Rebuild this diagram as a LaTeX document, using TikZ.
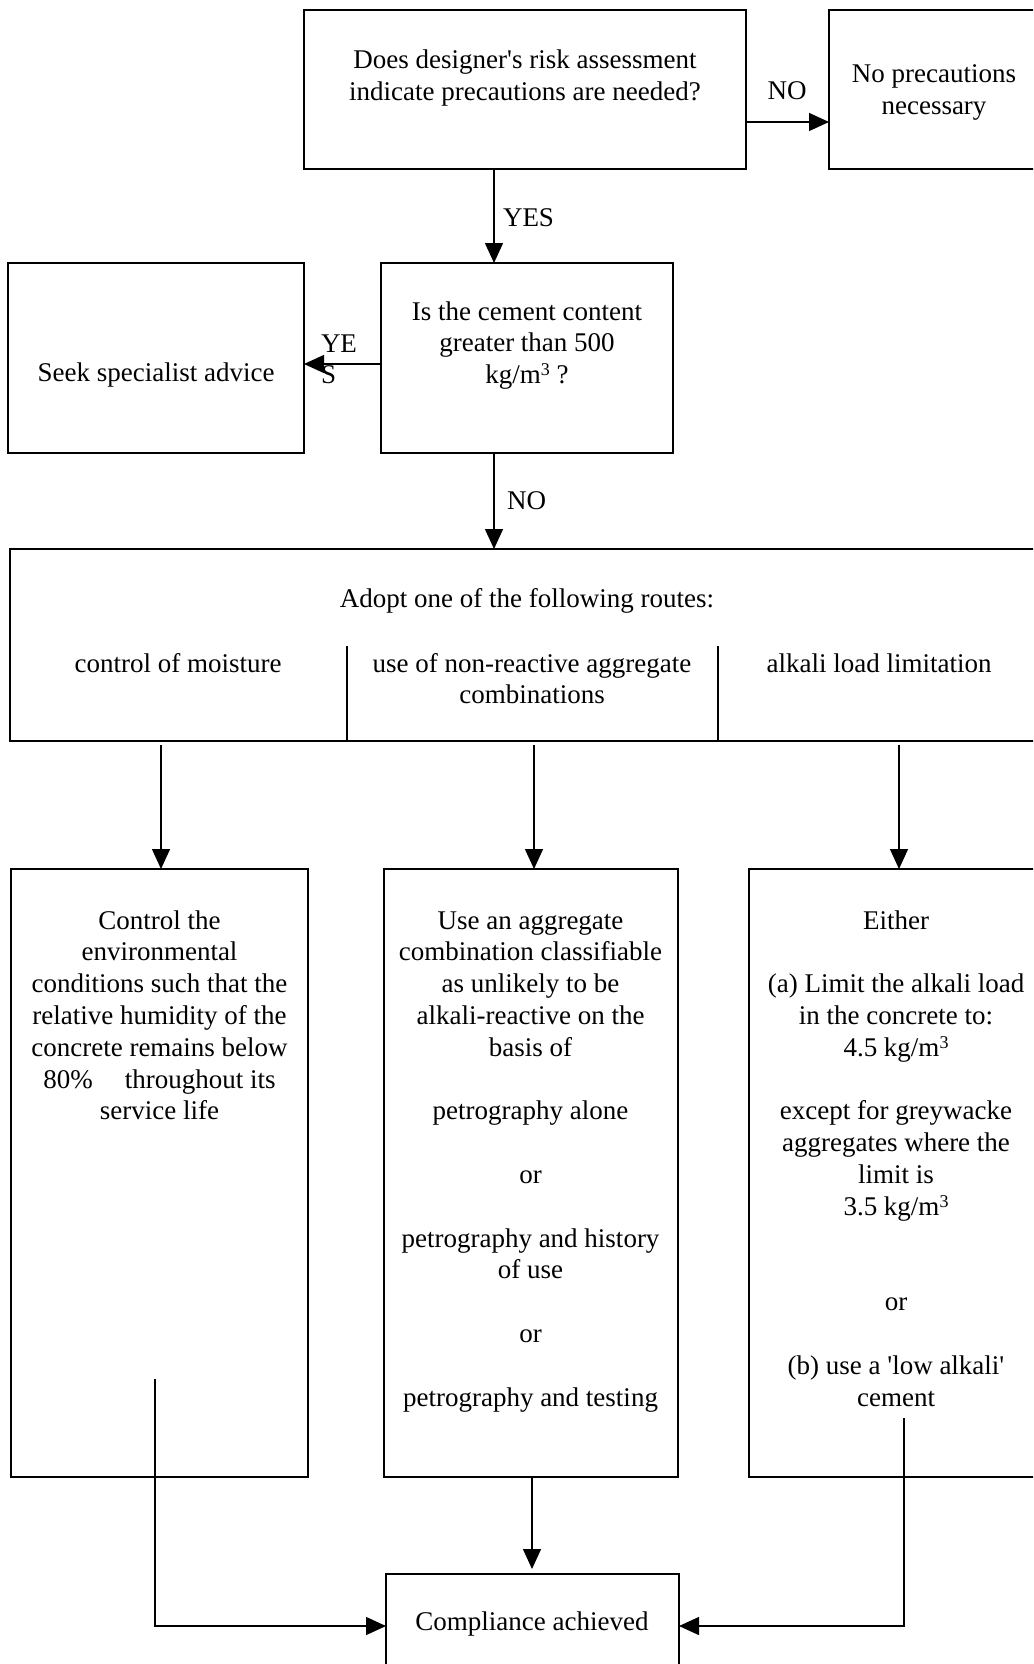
\documentclass[tikz,border=0pt]{standalone}
\usepackage{fontspec}
\setmainfont{Liberation Serif}
\usetikzlibrary{arrows.meta}
\newcommand{\fst}{\rule{0pt}{22pt}}
\newcommand{\cubed}{\smash{\raisebox{8pt}{\fontsize{18}{18}\selectfont 3}}}
\begin{document}
\begin{tikzpicture}[x=1pt,y=-1pt,
  box/.style={draw, line width=1.5pt, inner sep=0pt, outer sep=0pt},
  txt/.style={inner sep=0pt, outer sep=0pt, align=center, font=\fontsize{27}{31.8}\selectfont},
  arr/.style={line width=1.4pt, -{Triangle[length=20pt,width=18pt]}},
  ln/.style={line width=1.3pt}]
\useasboundingbox (0,0) rectangle (1033,1664);
\clip (0,0) rectangle (1033,1664);

% boxes
\node[box, minimum width=442pt, minimum height=159pt] (top) at (525,89.5) {};
\node[box, minimum width=211pt, minimum height=159pt] (noprec) at (934.5,89.5) {};
\node[box, minimum width=292pt, minimum height=190pt] (cement) at (527,358) {};
\node[box, minimum width=296pt, minimum height=190pt] (seek) at (156,358) {};
\node[box, minimum width=1030pt, minimum height=192pt] (routes) at (525,645) {};
\node[box, minimum width=297pt, minimum height=608pt] (boxL) at (159.5,1173) {};
\node[box, minimum width=294pt, minimum height=608pt] (boxM) at (531,1173) {};
\node[box, minimum width=294pt, minimum height=608pt] (boxR) at (896,1173) {};
\node[box, minimum width=293pt, minimum height=98pt] (comp) at (532.5,1623) {};

% dividers in routes box
\draw[ln] (347,646) -- (347,741);
\draw[ln] (718,646) -- (718,741);

% texts
\node[txt, anchor=north] (ttop) at (525,47) {\fst Does designer\textquotesingle s risk assessment\\indicate precautions are needed?};
\node[txt, anchor=north] (tnop) at (934,61) {\fst No precautions\\necessary};
\node[txt, anchor=north] (tcem) at (527,298) {\fst Is the cement content\\greater than 500\\kg/m\cubed{} ?};
\node[txt, anchor=base] (tseek) at (156,381) {Seek specialist advice};
\node[txt, anchor=base] (tadopt) at (527,607) {Adopt one of the following routes:};
\node[txt, anchor=base] (tr1) at (178,672) {control of moisture};
\node[txt, anchor=north] (tr2) at (532,650) {\fst use of non-reactive aggregate\\combinations};
\node[txt, anchor=base] (tr3) at (879,672) {alkali load limitation};
\node[txt, anchor=north] (tL) at (159.5,907) {\fst Control the\\environmental\\conditions such that the\\relative humidity of the\\concrete remains below\\80\%\hspace{32pt}throughout its\\service life};
\node[txt, anchor=north] (tM) at (530.5,907) {\fst Use an aggregate\\combination classifiable\\as unlikely to be\\alkali-reactive on the\\basis of\\~\\petrography alone\\~\\or\\~\\petrography and history\\of use\\~\\or\\~\\petrography and testing};
\node[txt, anchor=north] (tR) at (896,907) {\fst Either\\~\\(a) Limit the alkali load\\in the concrete to:\\4.5 kg/m\cubed\\~\\except for greywacke\\aggregates where the\\limit is\\3.5 kg/m\cubed\\~\\~\\or\\~\\(b) use a \textquotesingle low alkali\textquotesingle\\cement};
\node[txt, anchor=base] (tcomp) at (532,1630) {Compliance achieved};

% labels
\node[txt, anchor=base] (lno) at (787,100) {NO};
\node[txt, anchor=base west] (lyes) at (503,226) {YES};
\node[txt, anchor=north west, align=left] (lyes2) at (321,330) {\fst YE\\S};
\node[txt, anchor=base west] (lno2) at (507,509) {NO};

% helper coordinates
\coordinate (yno) at (0,122);
\coordinate (xyes) at (494,0);
\coordinate (yseek) at (0,364);
\coordinate (xa) at (161,0);
\coordinate (xb) at (534,0);
\coordinate (xc) at (899,0);
\coordinate (xm) at (532,0);
\coordinate (lstart) at (155,1379);
\coordinate (rstart) at (904,1418);
\coordinate (ylow) at (0,1626);

% connectors
\draw[arr] (top.east |- yno) -- (noprec.west |- yno);
\draw[arr] (top.south -| xyes) -- (cement.north -| xyes);
\draw[arr] (cement.west |- yseek) -- (seek.east |- yseek);
\draw[arr] (cement.south -| xyes) -- (routes.north -| xyes);
\draw[arr, shorten <=4pt] (routes.south -| xa) -- (boxL.north -| xa);
\draw[arr, shorten <=4pt] (routes.south -| xb) -- (boxM.north -| xb);
\draw[arr, shorten <=4pt] (routes.south -| xc) -- (boxR.north -| xc);
\draw[arr, shorten >=5pt] (boxM.south -| xm) -- (comp.north -| xm);
\draw[arr] (lstart) |- (comp.west |- ylow);
\draw[arr] (rstart) |- (comp.east |- ylow);
\end{tikzpicture}
\end{document}
